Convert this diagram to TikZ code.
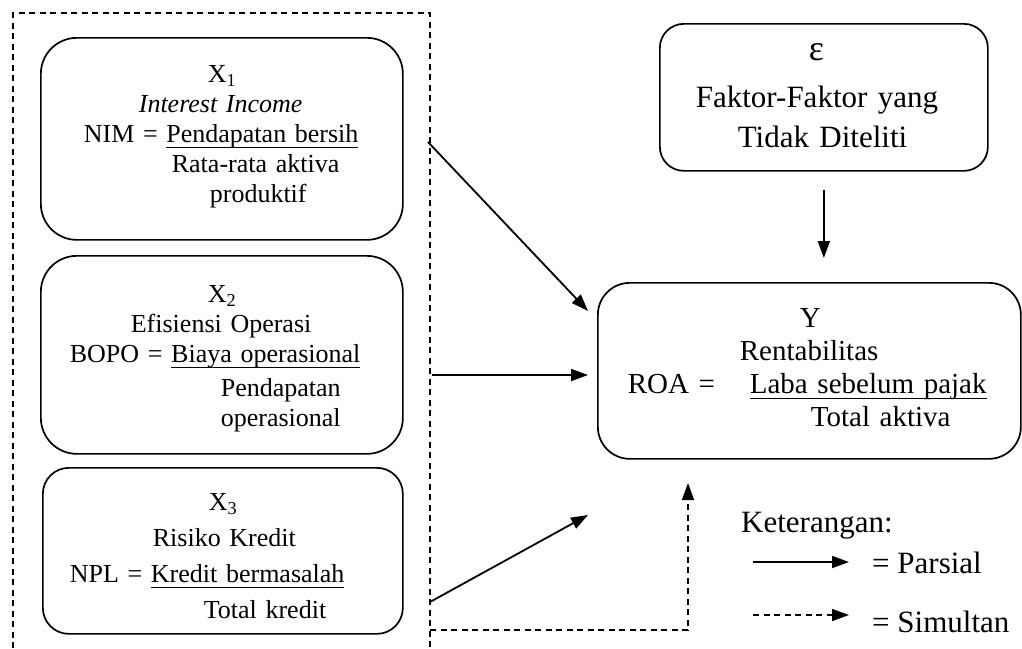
\documentclass[tikz,border=0pt]{standalone}
\usepackage{fontspec}
\setmainfont{Liberation Serif}
\usetikzlibrary{positioning,arrows.meta}
\newcommand{\undl}[1]{\setbox0\hbox{#1}\rlap{\rule[-5.5pt]{\wd0}{1.6pt}}\box0}

\begin{document}
\begin{tikzpicture}[x=1pt,y=-1pt,>={Triangle[length=17pt,width=12pt]},
	box/.style={draw,line width=1.7pt,inner sep=0pt,anchor=north west,align=left},
	small/.style={font=\fontsize{26}{30}\selectfont},
	big/.style={font=\fontsize{29}{33}\selectfont},
	leg/.style={font=\fontsize{31}{36}\selectfont,anchor=base west,inner sep=0pt},
	con/.style={->,line width=1.8pt},
	dashline/.style={line width=1.6pt,dash pattern=on 6pt off 4.5pt},]
	\useasboundingbox (0,0) rectangle (1022,648);
	% create boxes
	\node (x1) [box,small,rounded corners=36pt,text width=362pt,text height=45pt,text depth=157pt] at (40,37)
		{\hspace*{167pt}X\textsubscript{1}\\
		 \hspace*{98pt}\textit{Interest Income}\\
		 \hspace*{43pt}NIM = \undl{Pendapatan bersih}\\
		 \hspace*{131pt}Rata-rata aktiva\\
		 \hspace*{169pt}produktif};
	\node (x2) [box,small,rounded corners=36pt,text width=362pt,text height=47pt,text depth=151pt] at (40,255)
		{\hspace*{167pt}X\textsubscript{2}\\
		 \hspace*{90pt}Efisiensi Operasi\\
		 \hspace*{29pt}BOPO = \undl{Biaya operasional}\\[4pt]
		 \hspace*{180pt}Pendapatan\\
		 \hspace*{180pt}operasional};
	\node (x3) [box,font=\fontsize{26}{36}\selectfont,rounded corners=26pt,text width=360pt,text height=43pt,text depth=123pt] at (42,467)
		{\hspace*{166pt}X\textsubscript{3}\\
		 \hspace*{110pt}Risiko Kredit\\
		 \hspace*{27pt}NPL = \undl{Kredit bermasalah}\\
		 \hspace*{161pt}Total kredit};
	\node (eps) [box,font=\fontsize{31}{40}\selectfont,rounded corners=24pt,text width=328pt,text height=37pt,text depth=110pt] at (659,23)
		{\hspace*{149pt}{\fontsize{36}{40}\selectfont ε}\\[7pt]
		 \hspace*{36pt}Faktor-Faktor yang\\
		 \hspace*{78pt}Tidak Diteliti};
	\node (y) [box,big,rounded corners=32pt,text width=423pt,text height=45pt,text depth=131pt] at (597,282)
		{\hspace*{202pt}Y\\
		 \hspace*{142pt}Rentabilitas\\
		 \hspace*{30pt}\makebox[122pt][l]{ROA =}\undl{Laba sebelum pajak}\\
		 \hspace*{213pt}Total aktiva};
	% legend
	\node (ket) [leg] at (741,532) {Keterangan:};
	\node (par) [leg] at (872,573) {= Parsial};
	\node (sim) [leg] at (872,632) {= Simultan};

	% ends of the connectors
	\coordinate (s1) at (428,142);
	\coordinate (s2) at (432,375);
	\coordinate (s3) at (430,602);
	\coordinate (s4) at (430,630);
	\coordinate (t1) at (588,311);
	\coordinate (t2) at (588,375);
	\coordinate (t3) at (588,515);
	\coordinate (t4) at (688,483);
	\coordinate (p1) at (753,562);
	\coordinate (p2) at (849,562);
	\coordinate (q1) at (753,615);
	\coordinate (q2) at (849,615);

	% group of the independent variables
	\draw[dashline] (13,648) |- (430,13) -- (430,648);

	% connections
	\draw[con] (s1) to (t1);
	\draw[con] (s2) to (t2);
	\draw[con] (s3) to (t3);
	\draw[con,shorten <=18pt,shorten >=24pt] (eps.south) to (eps.south |- y.north);
	\draw[->,dashline] (s4) -| (t4);
	\draw[con] (p1) to (p2);
	\draw[->,dashline] (q1) to (q2);
\end{tikzpicture}
\end{document}
